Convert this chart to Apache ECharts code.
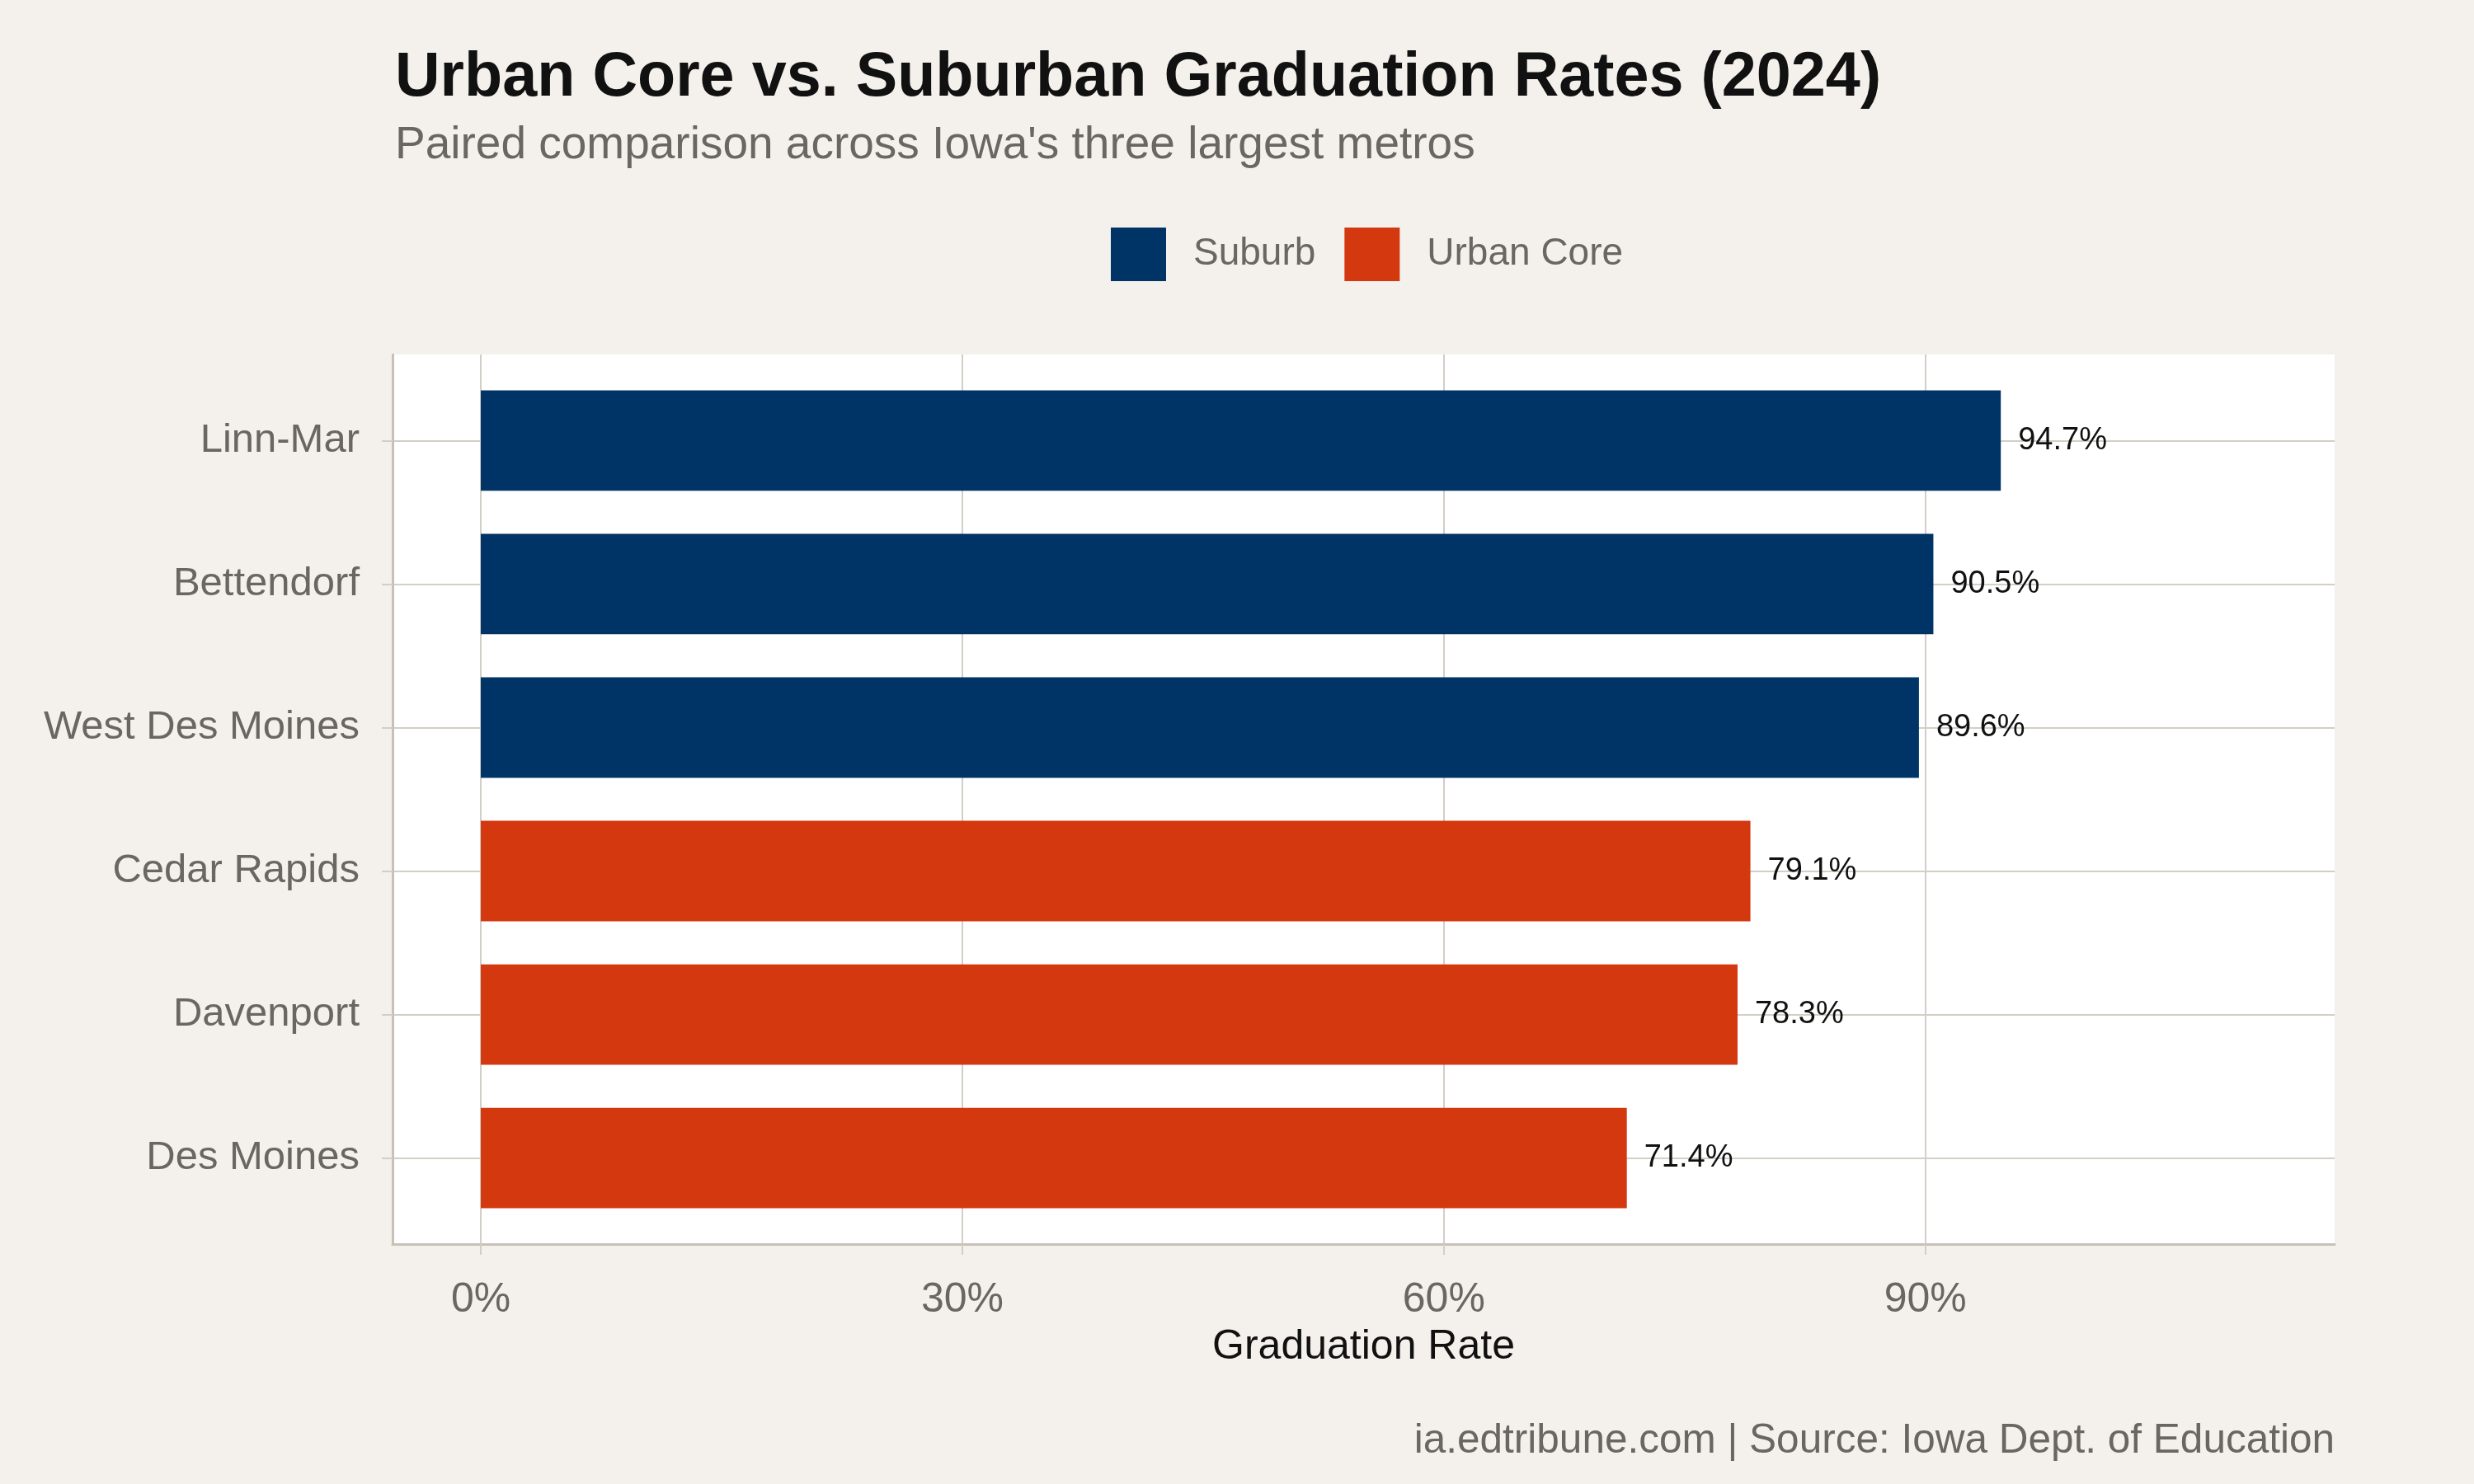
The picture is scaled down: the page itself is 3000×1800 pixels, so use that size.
<!DOCTYPE html>
<html>
<head>
<meta charset="utf-8">
<title>Urban Core vs. Suburban Graduation Rates (2024)</title>
<script src="https://cdn.jsdelivr.net/npm/echarts@6/dist/echarts.min.js"></script>
<style>
  html, body { margin: 0; padding: 0; background: #f4f1ec; }
  #chart { width: 3000px; height: 1800px; }
</style>
</head>
<body>
<div id="chart"></div>
<script>
// ============ data ============
const districts = ['Linn-Mar', 'Bettendorf', 'West Des Moines', 'Cedar Rapids', 'Davenport', 'Des Moines']
const gradRates = [94.7, 90.5, 89.6, 79.1, 78.3, 71.4]
const districtType = ['Suburb', 'Suburb', 'Suburb', 'Urban Core', 'Urban Core', 'Urban Core']
const groups = ['Suburb', 'Urban Core']
const groupColors = { 'Suburb': '#003366', 'Urban Core': '#d4380e' }
const xTicks = [0, 30, 60, 90]

const FONT = '"Liberation Sans", Arial, Helvetica, sans-serif'
const GREY = '#6b6661'
const GRID_LINE = '#d3cec6'
const AXIS_LINE = '#c7c1b8'

// bars on a continuous y scale so the bands get ggplot-like padding
const renderBar = (params, api) => {
  const v = api.value(0)
  const row = api.value(1)
  const start = api.coord([0, row])
  const end = api.coord([v, row])
  const h = api.size([0, 0.7])[1]
  return {
    type: 'group',
    children: [
      {
        type: 'rect',
        shape: { x: start[0], y: start[1] - h / 2, width: end[0] - start[0], height: h },
        style: { fill: api.visual('color') }
      },
      {
        type: 'text',
        x: end[0] + 21,
        y: end[1],
        style: {
          text: v.toFixed(1) + '%',
          fill: '#111111',
          font: '38px ' + FONT,
          align: 'left',
          verticalAlign: 'middle'
        }
      }
    ]
  }
}

const series = groups.map((g) => ({
  name: g,
  type: 'custom',
  renderItem: renderBar,
  itemStyle: { color: groupColors[g] },
  encode: { x: 0, y: 1 },
  data: districts
    .map((d, i) => [gradRates[i], i])
    .filter((p) => districtType[p[1]] === g)
}))

const chart = echarts.init(document.getElementById('chart'), null, { renderer: 'canvas' })
chart.setOption({
  backgroundColor: '#f4f1ec',
  animation: false,
  textStyle: { fontFamily: FONT },
  title: [
    {
      text: 'Urban Core vs. Suburban Graduation Rates (2024)',
      left: 479,
      top: 57,
      padding: 0,
      textStyle: { fontFamily: FONT, fontSize: 75.6, fontWeight: 'bold', color: '#111111' }
    },
    {
      text: "Paired comparison across Iowa's three largest metros",
      left: 479,
      top: 149,
      padding: 0,
      textStyle: { fontFamily: FONT, fontSize: 55, fontWeight: 'normal', color: GREY }
    },
    {
      text: 'ia.edtribune.com | Source: Iowa Dept. of Education',
      right: 169,
      top: 1723,
      padding: 0,
      textStyle: { fontFamily: FONT, fontSize: 49.5, fontWeight: 'normal', color: GREY }
    }
  ],
  legend: {
    data: groups,
    left: 1342,
    top: 271,
    icon: 'rect',
    itemWidth: 67,
    itemHeight: 65,
    itemGap: 35,
    textStyle: { fontFamily: FONT, fontSize: 46, color: GREY, padding: [0, 0, 0, 28] }
  },
  grid: {
    left: 476,
    right: 169,
    top: 430,
    bottom: 291,
    show: true,
    backgroundColor: '#ffffff',
    borderWidth: 0
  },
  xAxis: {
    type: 'value',
    min: -5.5,
    max: 115.5,
    name: 'Graduation Rate',
    nameLocation: 'middle',
    nameGap: 100,
    nameTextStyle: { fontFamily: FONT, fontSize: 50, color: '#111111' },
    axisLine: { show: true, onZero: false, lineStyle: { color: AXIS_LINE, width: 3 } },
    axisTick: { show: true, length: 13, customValues: xTicks, lineStyle: { color: GRID_LINE, width: 2 } },
    axisLabel: {
      customValues: xTicks,
      margin: 43,
      fontFamily: FONT,
      fontSize: 50,
      color: GREY,
      formatter: (v) => v + '%'
    },
    splitLine: { show: true, lineStyle: { color: GRID_LINE, width: 2 } }
  },
  yAxis: {
    type: 'value',
    inverse: true,
    min: -0.6,
    max: 5.6,
    axisLine: { show: true, onZero: false, lineStyle: { color: AXIS_LINE, width: 3 } },
    axisTick: { show: true, length: 13, customValues: [0, 1, 2, 3, 4, 5], lineStyle: { color: GRID_LINE, width: 2 } },
    axisLabel: {
      customValues: [0, 1, 2, 3, 4, 5],
      margin: 40,
      fontFamily: FONT,
      fontSize: 49,
      color: GREY,
      formatter: (v) => districts[Math.round(v)]
    },
    splitLine: { show: true, lineStyle: { color: GRID_LINE, width: 2 } }
  },
  series: series
})
</script>
</body>
</html>
